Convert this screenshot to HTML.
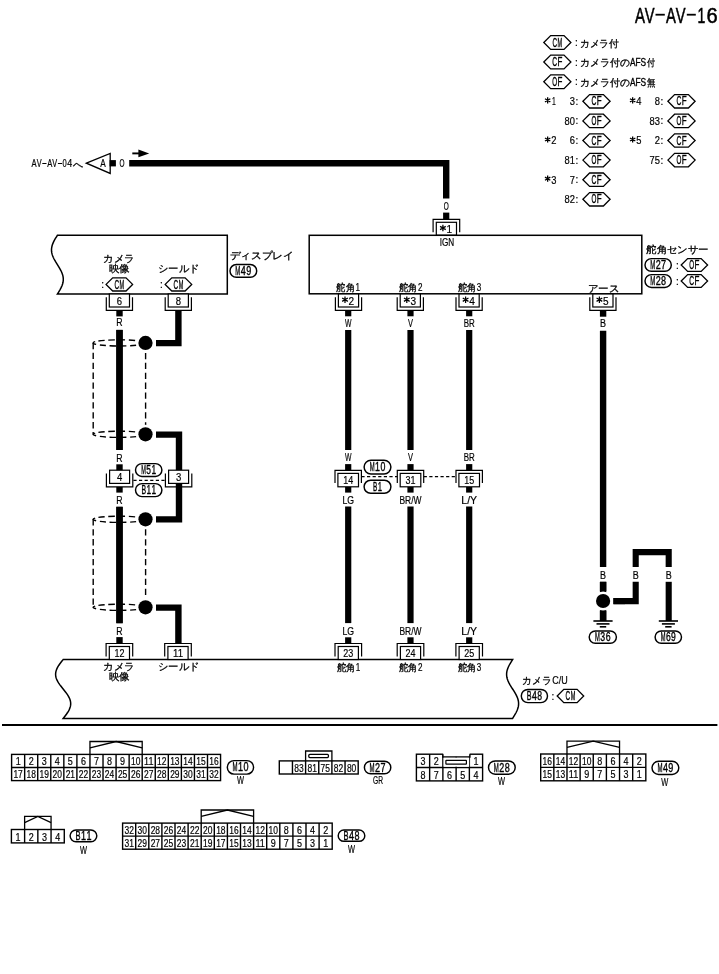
<!DOCTYPE html><html><head><meta charset="utf-8"><style>html,body{margin:0;padding:0;background:#fff;}svg{display:block;will-change:transform;}text{font-family:"Liberation Sans",sans-serif;fill:#000;stroke:#000;stroke-width:0.2px;}text.j{stroke-width:0.3px;}text.t{stroke-width:0.55px;}text.m{stroke-width:0.35px;}</style></head><body>
<svg width="719" height="974" viewBox="0 0 719 974" stroke="#000" fill="none">
<rect x="0" y="0" width="719" height="974" fill="#fff" stroke="none"/>
<text x="634.90" y="22.60" font-size="22" textLength="10.0" lengthAdjust="spacingAndGlyphs" class="t">A</text>
<text x="644.80" y="22.60" font-size="22" textLength="9.800000000000068" lengthAdjust="spacingAndGlyphs" class="t">V</text>
<text x="666.00" y="22.60" font-size="22" textLength="9.899999999999977" lengthAdjust="spacingAndGlyphs" class="t">A</text>
<text x="675.80" y="22.60" font-size="22" textLength="9.800000000000068" lengthAdjust="spacingAndGlyphs" class="t">V</text>
<text x="697.40" y="22.60" font-size="22" textLength="7.800000000000068" lengthAdjust="spacingAndGlyphs" class="t">1</text>
<text x="706.40" y="22.60" font-size="22" textLength="11.200000000000045" lengthAdjust="spacingAndGlyphs" class="t">6</text>
<rect x="655.50" y="13.80" width="9.30" height="1.80" fill="#000" stroke="none"/>
<rect x="686.80" y="13.80" width="9.00" height="1.80" fill="#000" stroke="none"/>
<path d="M543.80,42.45 L550.70,35.55 L564.00,35.55 L570.90,42.45 L564.00,49.35 L550.70,49.35 Z" fill="#fff" stroke-width="1.3"/>
<text x="554.82" y="46.55" font-size="12" text-anchor="middle" textLength="4.646" lengthAdjust="spacingAndGlyphs" class="m">C</text>
<text x="559.87" y="46.55" font-size="12" text-anchor="middle" textLength="4.646" lengthAdjust="spacingAndGlyphs" class="m">M</text>
<text x="576.40" y="46.05" font-size="10" text-anchor="middle">:</text>
<text x="579.80" y="46.75" font-size="10" textLength="38.9" lengthAdjust="spacingAndGlyphs" class="j">カメラ付</text>
<path d="M543.80,62.00 L550.70,55.10 L564.00,55.10 L570.90,62.00 L564.00,68.90 L550.70,68.90 Z" fill="#fff" stroke-width="1.3"/>
<text x="554.70" y="66.10" font-size="12" text-anchor="middle" textLength="4.876" lengthAdjust="spacingAndGlyphs" class="m">C</text>
<text x="560.00" y="66.10" font-size="12" text-anchor="middle" textLength="4.876" lengthAdjust="spacingAndGlyphs" class="m">F</text>
<text x="576.40" y="65.60" font-size="10" text-anchor="middle">:</text>
<text x="579.80" y="66.30" font-size="10" textLength="49.8" lengthAdjust="spacingAndGlyphs" class="j">カメラ付の</text>
<text x="629.90" y="66.00" font-size="11" textLength="16.2" lengthAdjust="spacingAndGlyphs" class="m">AFS</text>
<text x="647.00" y="66.30" font-size="10" textLength="8.0" lengthAdjust="spacingAndGlyphs" class="j">付</text>
<path d="M543.80,81.70 L550.70,74.80 L564.00,74.80 L570.90,81.70 L564.00,88.60 L550.70,88.60 Z" fill="#fff" stroke-width="1.3"/>
<text x="554.70" y="85.80" font-size="12" text-anchor="middle" textLength="4.876" lengthAdjust="spacingAndGlyphs" class="m">O</text>
<text x="560.00" y="85.80" font-size="12" text-anchor="middle" textLength="4.876" lengthAdjust="spacingAndGlyphs" class="m">F</text>
<text x="576.40" y="85.30" font-size="10" text-anchor="middle">:</text>
<text x="579.80" y="86.00" font-size="10" textLength="49.8" lengthAdjust="spacingAndGlyphs" class="j">カメラ付の</text>
<text x="629.90" y="85.70" font-size="11" textLength="16.2" lengthAdjust="spacingAndGlyphs" class="m">AFS</text>
<text x="647.00" y="86.00" font-size="10" textLength="8.4" lengthAdjust="spacingAndGlyphs" class="j">無</text>
<path d="M582.90,101.30 L589.60,94.60 L603.40,94.60 L610.10,101.30 L603.40,108.00 L589.60,108.00 Z" fill="#fff" stroke-width="1.3"/>
<text x="593.85" y="105.40" font-size="12" text-anchor="middle" textLength="4.876" lengthAdjust="spacingAndGlyphs" class="m">C</text>
<text x="599.15" y="105.40" font-size="12" text-anchor="middle" textLength="4.876" lengthAdjust="spacingAndGlyphs" class="m">F</text>
<path d="M547.65,103.40 L547.65,97.20 M544.97,101.85 L550.33,98.75 M544.97,98.75 L550.33,101.85 " stroke-width="1.3" fill="none"/>
<text x="553.80" y="105.20" font-size="10.5" text-anchor="middle" textLength="3.8" lengthAdjust="spacingAndGlyphs">1</text>
<text x="575.00" y="105.20" font-size="10.5" text-anchor="end" textLength="5.2" lengthAdjust="spacingAndGlyphs">3</text>
<text x="577.00" y="104.80" font-size="10" text-anchor="middle">:</text>
<path d="M582.90,120.90 L589.60,114.20 L603.40,114.20 L610.10,120.90 L603.40,127.60 L589.60,127.60 Z" fill="#fff" stroke-width="1.3"/>
<text x="593.85" y="125.00" font-size="12" text-anchor="middle" textLength="4.876" lengthAdjust="spacingAndGlyphs" class="m">O</text>
<text x="599.15" y="125.00" font-size="12" text-anchor="middle" textLength="4.876" lengthAdjust="spacingAndGlyphs" class="m">F</text>
<text x="575.00" y="124.80" font-size="10.5" text-anchor="end" textLength="10.4" lengthAdjust="spacingAndGlyphs">80</text>
<text x="577.00" y="124.40" font-size="10" text-anchor="middle">:</text>
<path d="M582.90,140.50 L589.60,133.80 L603.40,133.80 L610.10,140.50 L603.40,147.20 L589.60,147.20 Z" fill="#fff" stroke-width="1.3"/>
<text x="593.85" y="144.60" font-size="12" text-anchor="middle" textLength="4.876" lengthAdjust="spacingAndGlyphs" class="m">C</text>
<text x="599.15" y="144.60" font-size="12" text-anchor="middle" textLength="4.876" lengthAdjust="spacingAndGlyphs" class="m">F</text>
<path d="M547.65,142.60 L547.65,136.40 M544.97,141.05 L550.33,137.95 M544.97,137.95 L550.33,141.05 " stroke-width="1.3" fill="none"/>
<text x="553.80" y="144.40" font-size="10.5" text-anchor="middle" textLength="5.2" lengthAdjust="spacingAndGlyphs">2</text>
<text x="575.00" y="144.40" font-size="10.5" text-anchor="end" textLength="5.2" lengthAdjust="spacingAndGlyphs">6</text>
<text x="577.00" y="144.00" font-size="10" text-anchor="middle">:</text>
<path d="M582.90,160.10 L589.60,153.40 L603.40,153.40 L610.10,160.10 L603.40,166.80 L589.60,166.80 Z" fill="#fff" stroke-width="1.3"/>
<text x="593.85" y="164.20" font-size="12" text-anchor="middle" textLength="4.876" lengthAdjust="spacingAndGlyphs" class="m">O</text>
<text x="599.15" y="164.20" font-size="12" text-anchor="middle" textLength="4.876" lengthAdjust="spacingAndGlyphs" class="m">F</text>
<text x="575.00" y="164.00" font-size="10.5" text-anchor="end" textLength="10.4" lengthAdjust="spacingAndGlyphs">81</text>
<text x="577.00" y="163.60" font-size="10" text-anchor="middle">:</text>
<path d="M582.90,179.70 L589.60,173.00 L603.40,173.00 L610.10,179.70 L603.40,186.40 L589.60,186.40 Z" fill="#fff" stroke-width="1.3"/>
<text x="593.85" y="183.80" font-size="12" text-anchor="middle" textLength="4.876" lengthAdjust="spacingAndGlyphs" class="m">C</text>
<text x="599.15" y="183.80" font-size="12" text-anchor="middle" textLength="4.876" lengthAdjust="spacingAndGlyphs" class="m">F</text>
<path d="M547.65,181.80 L547.65,175.60 M544.97,180.25 L550.33,177.15 M544.97,177.15 L550.33,180.25 " stroke-width="1.3" fill="none"/>
<text x="553.80" y="183.60" font-size="10.5" text-anchor="middle" textLength="5.2" lengthAdjust="spacingAndGlyphs">3</text>
<text x="575.00" y="183.60" font-size="10.5" text-anchor="end" textLength="5.2" lengthAdjust="spacingAndGlyphs">7</text>
<text x="577.00" y="183.20" font-size="10" text-anchor="middle">:</text>
<path d="M582.90,199.30 L589.60,192.60 L603.40,192.60 L610.10,199.30 L603.40,206.00 L589.60,206.00 Z" fill="#fff" stroke-width="1.3"/>
<text x="593.85" y="203.40" font-size="12" text-anchor="middle" textLength="4.876" lengthAdjust="spacingAndGlyphs" class="m">O</text>
<text x="599.15" y="203.40" font-size="12" text-anchor="middle" textLength="4.876" lengthAdjust="spacingAndGlyphs" class="m">F</text>
<text x="575.00" y="203.20" font-size="10.5" text-anchor="end" textLength="10.4" lengthAdjust="spacingAndGlyphs">82</text>
<text x="577.00" y="202.80" font-size="10" text-anchor="middle">:</text>
<path d="M667.90,101.30 L674.60,94.60 L688.40,94.60 L695.10,101.30 L688.40,108.00 L674.60,108.00 Z" fill="#fff" stroke-width="1.3"/>
<text x="678.85" y="105.40" font-size="12" text-anchor="middle" textLength="4.876" lengthAdjust="spacingAndGlyphs" class="m">C</text>
<text x="684.15" y="105.40" font-size="12" text-anchor="middle" textLength="4.876" lengthAdjust="spacingAndGlyphs" class="m">F</text>
<path d="M632.65,103.40 L632.65,97.20 M629.97,101.85 L635.33,98.75 M629.97,98.75 L635.33,101.85 " stroke-width="1.3" fill="none"/>
<text x="638.80" y="105.20" font-size="10.5" text-anchor="middle" textLength="5.2" lengthAdjust="spacingAndGlyphs">4</text>
<text x="660.00" y="105.20" font-size="10.5" text-anchor="end" textLength="5.2" lengthAdjust="spacingAndGlyphs">8</text>
<text x="662.00" y="104.80" font-size="10" text-anchor="middle">:</text>
<path d="M667.90,120.90 L674.60,114.20 L688.40,114.20 L695.10,120.90 L688.40,127.60 L674.60,127.60 Z" fill="#fff" stroke-width="1.3"/>
<text x="678.85" y="125.00" font-size="12" text-anchor="middle" textLength="4.876" lengthAdjust="spacingAndGlyphs" class="m">O</text>
<text x="684.15" y="125.00" font-size="12" text-anchor="middle" textLength="4.876" lengthAdjust="spacingAndGlyphs" class="m">F</text>
<text x="660.00" y="124.80" font-size="10.5" text-anchor="end" textLength="10.4" lengthAdjust="spacingAndGlyphs">83</text>
<text x="662.00" y="124.40" font-size="10" text-anchor="middle">:</text>
<path d="M667.90,140.50 L674.60,133.80 L688.40,133.80 L695.10,140.50 L688.40,147.20 L674.60,147.20 Z" fill="#fff" stroke-width="1.3"/>
<text x="678.85" y="144.60" font-size="12" text-anchor="middle" textLength="4.876" lengthAdjust="spacingAndGlyphs" class="m">C</text>
<text x="684.15" y="144.60" font-size="12" text-anchor="middle" textLength="4.876" lengthAdjust="spacingAndGlyphs" class="m">F</text>
<path d="M632.65,142.60 L632.65,136.40 M629.97,141.05 L635.33,137.95 M629.97,137.95 L635.33,141.05 " stroke-width="1.3" fill="none"/>
<text x="638.80" y="144.40" font-size="10.5" text-anchor="middle" textLength="5.2" lengthAdjust="spacingAndGlyphs">5</text>
<text x="660.00" y="144.40" font-size="10.5" text-anchor="end" textLength="5.2" lengthAdjust="spacingAndGlyphs">2</text>
<text x="662.00" y="144.00" font-size="10" text-anchor="middle">:</text>
<path d="M667.90,160.10 L674.60,153.40 L688.40,153.40 L695.10,160.10 L688.40,166.80 L674.60,166.80 Z" fill="#fff" stroke-width="1.3"/>
<text x="678.85" y="164.20" font-size="12" text-anchor="middle" textLength="4.876" lengthAdjust="spacingAndGlyphs" class="m">O</text>
<text x="684.15" y="164.20" font-size="12" text-anchor="middle" textLength="4.876" lengthAdjust="spacingAndGlyphs" class="m">F</text>
<text x="660.00" y="164.00" font-size="10.5" text-anchor="end" textLength="10.4" lengthAdjust="spacingAndGlyphs">75</text>
<text x="662.00" y="163.60" font-size="10" text-anchor="middle">:</text>
<text x="31.60" y="167.20" font-size="10.5" textLength="5.100000000000001" lengthAdjust="spacingAndGlyphs">A</text>
<text x="36.70" y="167.20" font-size="10.5" textLength="4.899999999999999" lengthAdjust="spacingAndGlyphs">V</text>
<text x="47.20" y="167.20" font-size="10.5" textLength="5.099999999999994" lengthAdjust="spacingAndGlyphs">A</text>
<text x="52.30" y="167.20" font-size="10.5" textLength="4.900000000000006" lengthAdjust="spacingAndGlyphs">V</text>
<text x="62.60" y="167.20" font-size="10.5" textLength="4.199999999999996" lengthAdjust="spacingAndGlyphs">0</text>
<text x="67.30" y="167.20" font-size="10.5" textLength="5.0" lengthAdjust="spacingAndGlyphs">4</text>
<rect x="42.30" y="163.00" width="4.20" height="1.00" fill="#000" stroke="none"/>
<rect x="57.90" y="163.00" width="4.20" height="1.00" fill="#000" stroke="none"/>
<text x="72.80" y="167.60" font-size="10" textLength="10" lengthAdjust="spacingAndGlyphs" class="j">へ</text>
<text x="122.00" y="167.20" font-size="10.5" text-anchor="middle" textLength="5" lengthAdjust="spacingAndGlyphs">O</text>
<text x="446.20" y="210.30" font-size="10.5" text-anchor="middle" textLength="5" lengthAdjust="spacingAndGlyphs">O</text>
<path d="M86.4,163.2 L110.2,153.4 L110.2,173.4 Z" fill="#fff" stroke-width="1.3"/>
<text x="103.00" y="167.30" font-size="10.5" text-anchor="middle" textLength="5.5" lengthAdjust="spacingAndGlyphs">A</text>
<rect x="109.6" y="160.1" width="6.3" height="6.3" fill="#000" stroke="none"/>
<line x1="132.3" y1="153.4" x2="139.5" y2="153.4" stroke-width="1.9"/>
<path d="M138.4,149.6 L149.2,153.4 L138.4,157.2 Z" fill="#000" stroke="none"/>
<path d="M129.20,163.30 L446.20,163.30 L446.20,198.40" fill="none" stroke-width="6.4"/>
<line x1="446.2" y1="212.6" x2="446.2" y2="219" stroke-width="6.2"/>
<path d="M433.10,232.30 L433.10,219.30 L459.70,219.30 L459.70,232.30" fill="none" stroke-width="1.2"/>
<rect x="436.30" y="222.30" width="20.20" height="13.00" fill="#fff" stroke-width="1.2"/>
<path d="M442.90,231.30 L442.90,224.70 M440.04,229.65 L445.76,226.35 M440.04,226.35 L445.76,229.65 " stroke-width="1.25" fill="none"/>
<text x="449.30" y="233.00" font-size="11.5" text-anchor="middle" textLength="5.6" lengthAdjust="spacingAndGlyphs">1</text>
<path d="M227.30,235.30 L227.30,294.00 L57.40,294.00 L58.32,292.53 L59.22,291.06 L60.08,289.60 L60.87,288.13 L61.57,286.66 L62.17,285.19 L62.66,283.73 L63.01,282.26 L63.23,280.79 L63.30,279.32 L63.23,277.86 L63.01,276.39 L62.66,274.92 L62.17,273.45 L61.57,271.99 L60.87,270.52 L60.08,269.05 L59.22,267.59 L58.32,266.12 L57.40,264.65 L56.48,263.18 L55.58,261.72 L54.72,260.25 L53.93,258.78 L53.23,257.31 L52.63,255.84 L52.14,254.38 L51.79,252.91 L51.57,251.44 L51.50,249.98 L51.57,248.51 L51.79,247.04 L52.14,245.57 L52.63,244.11 L53.23,242.64 L53.93,241.17 L54.72,239.70 L55.58,238.24 L56.48,236.77 L57.40,235.30 Z" fill="#fff" stroke-width="1.5" stroke-linejoin="miter"/>
<text x="119.00" y="262.30" font-size="10" text-anchor="middle" textLength="31.2" lengthAdjust="spacingAndGlyphs" class="j">カメラ</text>
<text x="119.30" y="271.80" font-size="10" text-anchor="middle" textLength="21" lengthAdjust="spacingAndGlyphs" class="j">映像</text>
<text x="178.80" y="272.40" font-size="10" text-anchor="middle" textLength="41.2" lengthAdjust="spacingAndGlyphs" class="j">シールド</text>
<text x="102.60" y="287.50" font-size="10" text-anchor="middle">:</text>
<text x="161.50" y="287.50" font-size="10" text-anchor="middle">:</text>
<text x="229.60" y="259.30" font-size="10" textLength="64.2" lengthAdjust="spacingAndGlyphs" class="j">ディスプレイ</text>
<path d="M106.10,284.40 L112.70,277.80 L126.00,277.80 L132.60,284.40 L126.00,291.00 L112.70,291.00 Z" fill="#fff" stroke-width="1.3"/>
<text x="116.83" y="288.50" font-size="12" text-anchor="middle" textLength="4.646" lengthAdjust="spacingAndGlyphs" class="m">C</text>
<text x="121.88" y="288.50" font-size="12" text-anchor="middle" textLength="4.646" lengthAdjust="spacingAndGlyphs" class="m">M</text>
<path d="M165.20,284.40 L171.80,277.80 L185.10,277.80 L191.70,284.40 L185.10,291.00 L171.80,291.00 Z" fill="#fff" stroke-width="1.3"/>
<text x="175.92" y="288.50" font-size="12" text-anchor="middle" textLength="4.646" lengthAdjust="spacingAndGlyphs" class="m">C</text>
<text x="180.97" y="288.50" font-size="12" text-anchor="middle" textLength="4.646" lengthAdjust="spacingAndGlyphs" class="m">M</text>
<rect x="230.00" y="264.50" width="26.70" height="12.80" rx="6.40" fill="#fff" stroke-width="1.45"/>
<text x="237.88" y="275.00" font-size="12" text-anchor="middle" textLength="5.029333333333333" lengthAdjust="spacingAndGlyphs" class="m">M</text>
<text x="243.35" y="275.00" font-size="12" text-anchor="middle" textLength="5.029333333333333" lengthAdjust="spacingAndGlyphs" class="m">4</text>
<text x="248.82" y="275.00" font-size="12" text-anchor="middle" textLength="5.029333333333333" lengthAdjust="spacingAndGlyphs" class="m">9</text>
<rect x="309.20" y="235.30" width="332.60" height="58.50" fill="#fff" stroke-width="1.5"/>
<text x="446.90" y="246.30" font-size="10.5" text-anchor="middle" textLength="14.5" lengthAdjust="spacingAndGlyphs">IGN</text>
<text x="336.30" y="291.20" font-size="10" textLength="18.5" lengthAdjust="spacingAndGlyphs" class="j">舵角</text>
<text x="355.40" y="291.20" font-size="10.5" textLength="4.5" lengthAdjust="spacingAndGlyphs">1</text>
<text x="398.80" y="291.20" font-size="10" textLength="18.5" lengthAdjust="spacingAndGlyphs" class="j">舵角</text>
<text x="417.90" y="291.20" font-size="10.5" textLength="4.5" lengthAdjust="spacingAndGlyphs">2</text>
<text x="457.60" y="291.20" font-size="10" textLength="18.5" lengthAdjust="spacingAndGlyphs" class="j">舵角</text>
<text x="476.70" y="291.20" font-size="10.5" textLength="4.5" lengthAdjust="spacingAndGlyphs">3</text>
<text x="603.40" y="291.60" font-size="10" text-anchor="middle" textLength="31.5" lengthAdjust="spacingAndGlyphs" class="j">アース</text>
<text x="646.20" y="253.00" font-size="10" textLength="62.5" lengthAdjust="spacingAndGlyphs" class="j">舵角センサー</text>
<text x="677.40" y="268.50" font-size="10" text-anchor="middle">:</text>
<text x="677.40" y="284.50" font-size="10" text-anchor="middle">:</text>
<rect x="645.00" y="258.60" width="26.30" height="12.70" rx="6.35" fill="#fff" stroke-width="1.45"/>
<text x="652.68" y="269.05" font-size="12" text-anchor="middle" textLength="5.029333333333333" lengthAdjust="spacingAndGlyphs" class="m">M</text>
<text x="658.15" y="269.05" font-size="12" text-anchor="middle" textLength="5.029333333333333" lengthAdjust="spacingAndGlyphs" class="m">2</text>
<text x="663.62" y="269.05" font-size="12" text-anchor="middle" textLength="5.029333333333333" lengthAdjust="spacingAndGlyphs" class="m">7</text>
<rect x="645.00" y="274.60" width="26.30" height="12.90" rx="6.45" fill="#fff" stroke-width="1.45"/>
<text x="652.68" y="285.15" font-size="12" text-anchor="middle" textLength="5.029333333333333" lengthAdjust="spacingAndGlyphs" class="m">M</text>
<text x="658.15" y="285.15" font-size="12" text-anchor="middle" textLength="5.029333333333333" lengthAdjust="spacingAndGlyphs" class="m">2</text>
<text x="663.62" y="285.15" font-size="12" text-anchor="middle" textLength="5.029333333333333" lengthAdjust="spacingAndGlyphs" class="m">8</text>
<path d="M681.20,265.00 L687.65,258.55 L701.15,258.55 L707.60,265.00 L701.15,271.45 L687.65,271.45 Z" fill="#fff" stroke-width="1.3"/>
<text x="691.75" y="269.10" font-size="12" text-anchor="middle" textLength="4.876" lengthAdjust="spacingAndGlyphs" class="m">O</text>
<text x="697.05" y="269.10" font-size="12" text-anchor="middle" textLength="4.876" lengthAdjust="spacingAndGlyphs" class="m">F</text>
<path d="M681.20,281.00 L687.65,274.55 L701.15,274.55 L707.60,281.00 L701.15,287.45 L687.65,287.45 Z" fill="#fff" stroke-width="1.3"/>
<text x="691.75" y="285.10" font-size="12" text-anchor="middle" textLength="4.876" lengthAdjust="spacingAndGlyphs" class="m">C</text>
<text x="697.05" y="285.10" font-size="12" text-anchor="middle" textLength="4.876" lengthAdjust="spacingAndGlyphs" class="m">F</text>
<rect x="109.30" y="294.00" width="20.20" height="13.00" fill="#fff" stroke-width="1.2"/>
<path d="M106.30,297.20 L106.30,310.30 L132.50,310.30 L132.50,297.20" fill="none" stroke-width="1.2"/>
<text x="119.40" y="304.70" font-size="11.5" text-anchor="middle" textLength="5.3" lengthAdjust="spacingAndGlyphs">6</text>
<rect x="168.20" y="294.00" width="20.20" height="13.00" fill="#fff" stroke-width="1.2"/>
<path d="M165.20,297.20 L165.20,310.30 L191.40,310.30 L191.40,297.20" fill="none" stroke-width="1.2"/>
<text x="178.30" y="304.70" font-size="11.5" text-anchor="middle" textLength="5.3" lengthAdjust="spacingAndGlyphs">8</text>
<rect x="338.40" y="294.00" width="20.20" height="13.00" fill="#fff" stroke-width="1.2"/>
<path d="M335.40,297.20 L335.40,310.30 L361.60,310.30 L361.60,297.20" fill="none" stroke-width="1.2"/>
<path d="M345.00,303.00 L345.00,296.40 M342.14,301.35 L347.86,298.05 M342.14,298.05 L347.86,301.35 " stroke-width="1.25" fill="none"/>
<text x="351.40" y="304.70" font-size="11.5" text-anchor="middle" textLength="5.6" lengthAdjust="spacingAndGlyphs">2</text>
<rect x="400.20" y="294.00" width="20.20" height="13.00" fill="#fff" stroke-width="1.2"/>
<path d="M397.20,297.20 L397.20,310.30 L423.40,310.30 L423.40,297.20" fill="none" stroke-width="1.2"/>
<path d="M406.80,303.00 L406.80,296.40 M403.94,301.35 L409.66,298.05 M403.94,298.05 L409.66,301.35 " stroke-width="1.25" fill="none"/>
<text x="413.20" y="304.70" font-size="11.5" text-anchor="middle" textLength="5.6" lengthAdjust="spacingAndGlyphs">3</text>
<rect x="459.00" y="294.00" width="20.20" height="13.00" fill="#fff" stroke-width="1.2"/>
<path d="M456.00,297.20 L456.00,310.30 L482.20,310.30 L482.20,297.20" fill="none" stroke-width="1.2"/>
<path d="M465.60,303.00 L465.60,296.40 M462.74,301.35 L468.46,298.05 M462.74,298.05 L468.46,301.35 " stroke-width="1.25" fill="none"/>
<text x="472.00" y="304.70" font-size="11.5" text-anchor="middle" textLength="5.6" lengthAdjust="spacingAndGlyphs">4</text>
<rect x="592.80" y="294.00" width="20.20" height="13.00" fill="#fff" stroke-width="1.2"/>
<path d="M589.80,297.20 L589.80,310.30 L616.00,310.30 L616.00,297.20" fill="none" stroke-width="1.2"/>
<path d="M599.40,303.00 L599.40,296.40 M596.54,301.35 L602.26,298.05 M596.54,298.05 L602.26,301.35 " stroke-width="1.25" fill="none"/>
<text x="605.80" y="304.70" font-size="11.5" text-anchor="middle" textLength="5.6" lengthAdjust="spacingAndGlyphs">5</text>
<line x1="119.5" y1="310.3" x2="119.5" y2="316.4" stroke-width="6.4"/>
<line x1="119.5" y1="329.9" x2="119.5" y2="450" stroke-width="6.4"/>
<line x1="119.5" y1="464.3" x2="119.5" y2="471" stroke-width="6.4"/>
<line x1="119.5" y1="486.9" x2="119.5" y2="492.6" stroke-width="6.4"/>
<line x1="119.5" y1="506.8" x2="119.5" y2="623.2" stroke-width="6.4"/>
<line x1="119.5" y1="637.1" x2="119.5" y2="643.4" stroke-width="6.4"/>
<text x="119.50" y="325.60" font-size="10.5" text-anchor="middle" textLength="6.3" lengthAdjust="spacingAndGlyphs">R</text>
<text x="119.50" y="462.00" font-size="10.5" text-anchor="middle" textLength="6.3" lengthAdjust="spacingAndGlyphs">R</text>
<text x="119.50" y="504.00" font-size="10.5" text-anchor="middle" textLength="6.3" lengthAdjust="spacingAndGlyphs">R</text>
<text x="119.50" y="634.80" font-size="10.5" text-anchor="middle" textLength="6.3" lengthAdjust="spacingAndGlyphs">R</text>
<g stroke-dasharray="6.3 3.6" stroke-width="1.4">
<ellipse cx="119.3" cy="342.9" rx="26.2" ry="3.1"/>
<ellipse cx="119.3" cy="434.3" rx="26.2" ry="3.1"/>
<line x1="93.2" y1="342.9" x2="93.2" y2="434.3"/>
<line x1="145.6" y1="352.9" x2="145.6" y2="426.3"/>
<ellipse cx="119.3" cy="519.3" rx="26.2" ry="3.1"/>
<ellipse cx="119.3" cy="607.3" rx="26.2" ry="3.1"/>
<line x1="93.2" y1="519.3" x2="93.2" y2="607.3"/>
<line x1="145.6" y1="529.3" x2="145.6" y2="599.3"/>
</g>
<line x1="119.5" y1="329.9" x2="119.5" y2="450" stroke-width="6.4"/>
<line x1="119.5" y1="506.8" x2="119.5" y2="623.2" stroke-width="6.4"/>
<circle cx="145.5" cy="342.9" r="9.6" fill="#fff" stroke="none"/>
<circle cx="145.5" cy="342.9" r="7.1" fill="#000" stroke="none"/>
<circle cx="145.5" cy="434.3" r="9.6" fill="#fff" stroke="none"/>
<circle cx="145.5" cy="434.3" r="7.1" fill="#000" stroke="none"/>
<circle cx="145.5" cy="519.3" r="9.6" fill="#fff" stroke="none"/>
<circle cx="145.5" cy="519.3" r="7.1" fill="#000" stroke="none"/>
<circle cx="145.5" cy="607.3" r="9.6" fill="#fff" stroke="none"/>
<circle cx="145.5" cy="607.3" r="7.1" fill="#000" stroke="none"/>
<path d="M178.40,310.30 L178.40,343.10 L156.00,343.10" fill="none" stroke-width="6.4"/>
<path d="M156.00,434.60 L179.00,434.60 L179.00,470.50" fill="none" stroke-width="6.4"/>
<path d="M179.00,483.00 L179.00,519.40 L156.00,519.40" fill="none" stroke-width="6.4"/>
<path d="M156.00,607.60 L178.40,607.60 L178.40,643.40" fill="none" stroke-width="6.4"/>
<rect x="109.60" y="470.20" width="20.00" height="13.20" fill="#fff" stroke-width="1.2"/>
<path d="M106.40,473.60 L106.40,486.90 L132.80,486.90 L132.80,473.60" fill="none" stroke-width="1.2"/>
<text x="119.60" y="481.00" font-size="11.5" text-anchor="middle" textLength="5.3" lengthAdjust="spacingAndGlyphs">4</text>
<rect x="168.60" y="470.20" width="20.00" height="13.20" fill="#fff" stroke-width="1.2"/>
<path d="M165.40,473.60 L165.40,486.90 L191.80,486.90 L191.80,473.60" fill="none" stroke-width="1.2"/>
<text x="178.60" y="481.00" font-size="11.5" text-anchor="middle" textLength="5.3" lengthAdjust="spacingAndGlyphs">3</text>
<line x1="133.4" y1="480.4" x2="165" y2="480.4" stroke-width="1.1" stroke-dasharray="3.2 2.4"/>
<rect x="135.50" y="463.60" width="26.40" height="12.80" rx="6.40" fill="#fff" stroke-width="1.45"/>
<text x="143.63" y="474.10" font-size="12" text-anchor="middle" textLength="4.661333333333333" lengthAdjust="spacingAndGlyphs" class="m">M</text>
<text x="148.70" y="474.10" font-size="12" text-anchor="middle" textLength="4.661333333333333" lengthAdjust="spacingAndGlyphs" class="m">5</text>
<text x="153.77" y="474.10" font-size="12" text-anchor="middle" textLength="4.661333333333333" lengthAdjust="spacingAndGlyphs" class="m">1</text>
<rect x="135.50" y="483.60" width="26.40" height="13.00" rx="6.50" fill="#fff" stroke-width="1.45"/>
<text x="143.70" y="494.20" font-size="12" text-anchor="middle" textLength="4.6000000000000005" lengthAdjust="spacingAndGlyphs" class="m">B</text>
<text x="148.70" y="494.20" font-size="12" text-anchor="middle" textLength="4.6000000000000005" lengthAdjust="spacingAndGlyphs" class="m">1</text>
<text x="153.70" y="494.20" font-size="12" text-anchor="middle" textLength="4.6000000000000005" lengthAdjust="spacingAndGlyphs" class="m">1</text>
<line x1="348.2" y1="310.7" x2="348.2" y2="316.3" stroke-width="6.2"/>
<line x1="348.2" y1="330" x2="348.2" y2="450" stroke-width="6.2"/>
<line x1="348.2" y1="464.1" x2="348.2" y2="470.4" stroke-width="6.2"/>
<line x1="348.2" y1="486.8" x2="348.2" y2="492.6" stroke-width="6.2"/>
<line x1="348.2" y1="506.5" x2="348.2" y2="623.1" stroke-width="6.2"/>
<line x1="348.2" y1="637.3" x2="348.2" y2="643.9" stroke-width="6.2"/>
<text x="348.20" y="327.40" font-size="10.5" text-anchor="middle" textLength="6.5" lengthAdjust="spacingAndGlyphs">W</text>
<text x="348.20" y="461.30" font-size="10.5" text-anchor="middle" textLength="6.5" lengthAdjust="spacingAndGlyphs">W</text>
<text x="348.20" y="503.70" font-size="10.5" text-anchor="middle" textLength="11.6" lengthAdjust="spacingAndGlyphs">LG</text>
<text x="348.20" y="634.70" font-size="10.5" text-anchor="middle" textLength="11.6" lengthAdjust="spacingAndGlyphs">LG</text>
<line x1="410.5" y1="310.7" x2="410.5" y2="316.3" stroke-width="6.2"/>
<line x1="410.5" y1="330" x2="410.5" y2="450" stroke-width="6.2"/>
<line x1="410.5" y1="464.1" x2="410.5" y2="470.4" stroke-width="6.2"/>
<line x1="410.5" y1="486.8" x2="410.5" y2="492.6" stroke-width="6.2"/>
<line x1="410.5" y1="506.5" x2="410.5" y2="623.1" stroke-width="6.2"/>
<line x1="410.5" y1="637.3" x2="410.5" y2="643.9" stroke-width="6.2"/>
<text x="410.50" y="327.40" font-size="10.5" text-anchor="middle" textLength="5" lengthAdjust="spacingAndGlyphs">V</text>
<text x="410.50" y="461.30" font-size="10.5" text-anchor="middle" textLength="5" lengthAdjust="spacingAndGlyphs">V</text>
<text x="410.50" y="503.70" font-size="10.5" text-anchor="middle" textLength="22" lengthAdjust="spacingAndGlyphs">BR/W</text>
<text x="410.50" y="634.70" font-size="10.5" text-anchor="middle" textLength="22" lengthAdjust="spacingAndGlyphs">BR/W</text>
<line x1="469.2" y1="310.7" x2="469.2" y2="316.3" stroke-width="6.2"/>
<line x1="469.2" y1="330" x2="469.2" y2="450" stroke-width="6.2"/>
<line x1="469.2" y1="464.1" x2="469.2" y2="470.4" stroke-width="6.2"/>
<line x1="469.2" y1="486.8" x2="469.2" y2="492.6" stroke-width="6.2"/>
<line x1="469.2" y1="506.5" x2="469.2" y2="623.1" stroke-width="6.2"/>
<line x1="469.2" y1="637.3" x2="469.2" y2="643.9" stroke-width="6.2"/>
<text x="469.20" y="327.40" font-size="10.5" text-anchor="middle" textLength="11" lengthAdjust="spacingAndGlyphs">BR</text>
<text x="469.20" y="461.30" font-size="10.5" text-anchor="middle" textLength="11" lengthAdjust="spacingAndGlyphs">BR</text>
<text x="469.20" y="503.70" font-size="10.5" text-anchor="middle" textLength="15.8" lengthAdjust="spacingAndGlyphs">L/Y</text>
<text x="469.20" y="634.70" font-size="10.5" text-anchor="middle" textLength="15.8" lengthAdjust="spacingAndGlyphs">L/Y</text>
<path d="M335.00,483.10 L335.00,470.40 L361.40,470.40 L361.40,483.10" fill="none" stroke-width="1.2"/>
<rect x="337.90" y="473.40" width="20.60" height="13.40" fill="#fff" stroke-width="1.2"/>
<text x="348.20" y="484.30" font-size="11.5" text-anchor="middle" textLength="10" lengthAdjust="spacingAndGlyphs">14</text>
<path d="M397.30,483.10 L397.30,470.40 L423.70,470.40 L423.70,483.10" fill="none" stroke-width="1.2"/>
<rect x="400.20" y="473.40" width="20.60" height="13.40" fill="#fff" stroke-width="1.2"/>
<text x="410.50" y="484.30" font-size="11.5" text-anchor="middle" textLength="10" lengthAdjust="spacingAndGlyphs">31</text>
<path d="M456.00,483.10 L456.00,470.40 L482.40,470.40 L482.40,483.10" fill="none" stroke-width="1.2"/>
<rect x="458.90" y="473.40" width="20.60" height="13.40" fill="#fff" stroke-width="1.2"/>
<text x="469.20" y="484.30" font-size="11.5" text-anchor="middle" textLength="10" lengthAdjust="spacingAndGlyphs">15</text>
<g stroke-width="1.2" stroke-dasharray="3.2 2.4">
<line x1="361.4" y1="476.6" x2="397.3" y2="476.6"/>
<line x1="423.7" y1="476.6" x2="456" y2="476.6"/>
</g>
<rect x="364.10" y="460.20" width="26.80" height="13.70" rx="6.85" fill="#fff" stroke-width="1.45"/>
<text x="372.17" y="471.15" font-size="12" text-anchor="middle" textLength="4.906666666666666" lengthAdjust="spacingAndGlyphs" class="m">M</text>
<text x="377.50" y="471.15" font-size="12" text-anchor="middle" textLength="4.906666666666666" lengthAdjust="spacingAndGlyphs" class="m">1</text>
<text x="382.83" y="471.15" font-size="12" text-anchor="middle" textLength="4.906666666666666" lengthAdjust="spacingAndGlyphs" class="m">0</text>
<rect x="364.10" y="480.20" width="26.80" height="13.10" rx="6.55" fill="#fff" stroke-width="1.45"/>
<text x="375.18" y="490.85" font-size="12" text-anchor="middle" textLength="4.2780000000000005" lengthAdjust="spacingAndGlyphs" class="m">B</text>
<text x="379.82" y="490.85" font-size="12" text-anchor="middle" textLength="4.2780000000000005" lengthAdjust="spacingAndGlyphs" class="m">1</text>
<line x1="603.1" y1="310.5" x2="603.1" y2="316.7" stroke-width="6.4"/>
<line x1="603.1" y1="330.7" x2="603.1" y2="567.1" stroke-width="6.4"/>
<line x1="603.1" y1="581.8" x2="603.1" y2="595" stroke-width="6.4"/>
<line x1="603.1" y1="607" x2="603.1" y2="621" stroke-width="6.4"/>
<path d="M613.40,601.10 L635.70,601.10 L635.70,581.80" fill="none" stroke-width="6.1"/>
<path d="M635.70,567.10 L635.70,552.10 L668.70,552.10 L668.70,567.10" fill="none" stroke-width="6.1"/>
<line x1="668.7" y1="581.8" x2="668.7" y2="621" stroke-width="6.1"/>
<circle cx="603.1" cy="601" r="9.6" fill="#fff" stroke="none"/>
<circle cx="603.1" cy="601" r="7.1" fill="#000" stroke="none"/>
<line x1="603.1" y1="581.8" x2="603.1" y2="591" stroke-width="6.4"/>
<line x1="603.1" y1="611" x2="603.1" y2="621" stroke-width="6.4"/>
<line x1="613.4" y1="601.1" x2="625" y2="601.1" stroke-width="6.1"/>
<text x="603.10" y="327.30" font-size="10.5" text-anchor="middle" textLength="6" lengthAdjust="spacingAndGlyphs">B</text>
<text x="603.10" y="578.80" font-size="10.5" text-anchor="middle" textLength="6" lengthAdjust="spacingAndGlyphs">B</text>
<text x="635.70" y="578.80" font-size="10.5" text-anchor="middle" textLength="6" lengthAdjust="spacingAndGlyphs">B</text>
<text x="668.70" y="578.80" font-size="10.5" text-anchor="middle" textLength="6" lengthAdjust="spacingAndGlyphs">B</text>
<line x1="593.4" y1="621" x2="612.6" y2="621" stroke-width="1.6"/>
<line x1="596.5" y1="623.9" x2="609.5" y2="623.9" stroke-width="1.6"/>
<line x1="599.8" y1="626.8" x2="606.2" y2="626.8" stroke-width="1.6"/>
<line x1="658.8" y1="621" x2="678.0" y2="621" stroke-width="1.6"/>
<line x1="661.9" y1="623.9" x2="674.9" y2="623.9" stroke-width="1.6"/>
<line x1="665.1999999999999" y1="626.8" x2="671.6" y2="626.8" stroke-width="1.6"/>
<rect x="589.20" y="631.00" width="27.20" height="12.20" rx="6.10" fill="#fff" stroke-width="1.45"/>
<text x="597.50" y="641.20" font-size="12" text-anchor="middle" textLength="4.876" lengthAdjust="spacingAndGlyphs" class="m">M</text>
<text x="602.80" y="641.20" font-size="12" text-anchor="middle" textLength="4.876" lengthAdjust="spacingAndGlyphs" class="m">3</text>
<text x="608.10" y="641.20" font-size="12" text-anchor="middle" textLength="4.876" lengthAdjust="spacingAndGlyphs" class="m">6</text>
<rect x="655.10" y="631.00" width="26.40" height="12.20" rx="6.10" fill="#fff" stroke-width="1.45"/>
<text x="663.13" y="641.20" font-size="12" text-anchor="middle" textLength="4.753333333333334" lengthAdjust="spacingAndGlyphs" class="m">M</text>
<text x="668.30" y="641.20" font-size="12" text-anchor="middle" textLength="4.753333333333334" lengthAdjust="spacingAndGlyphs" class="m">6</text>
<text x="673.47" y="641.20" font-size="12" text-anchor="middle" textLength="4.753333333333334" lengthAdjust="spacingAndGlyphs" class="m">9</text>
<path d="M63.15,659.60 L61.97,661.07 L60.82,662.54 L59.72,664.01 L58.71,665.48 L57.81,666.95 L57.04,668.42 L56.42,669.89 L55.97,671.36 L55.69,672.83 L55.60,674.30 L55.69,675.77 L55.97,677.24 L56.42,678.71 L57.04,680.18 L57.81,681.65 L58.71,683.12 L59.72,684.59 L60.82,686.06 L61.97,687.53 L63.15,689.00 L64.33,690.47 L65.48,691.94 L66.58,693.41 L67.59,694.88 L68.49,696.35 L69.26,697.82 L69.88,699.29 L70.33,700.76 L70.61,702.23 L70.70,703.70 L70.61,705.17 L70.33,706.64 L69.88,708.11 L69.26,709.58 L68.49,711.05 L67.59,712.52 L66.58,713.99 L65.48,715.46 L64.33,716.93 L63.15,718.40 L512.60,718.40 L513.54,716.93 L514.45,715.46 L515.32,713.99 L516.13,712.52 L516.84,711.05 L517.45,709.58 L517.95,708.11 L518.31,706.64 L518.53,705.17 L518.60,703.70 L518.53,702.23 L518.31,700.76 L517.95,699.29 L517.45,697.82 L516.84,696.35 L516.13,694.88 L515.32,693.41 L514.45,691.94 L513.54,690.47 L512.60,689.00 L511.66,687.53 L510.75,686.06 L509.88,684.59 L509.07,683.12 L508.36,681.65 L507.75,680.18 L507.25,678.71 L506.89,677.24 L506.67,675.77 L506.60,674.30 L506.67,672.83 L506.89,671.36 L507.25,669.89 L507.75,668.42 L508.36,666.95 L509.07,665.48 L509.88,664.01 L510.75,662.54 L511.66,661.07 L512.60,659.60 Z" fill="#fff" stroke-width="1.5" stroke-linejoin="miter"/>
<path d="M106.10,656.50 L106.10,643.50 L132.70,643.50 L132.70,656.50" fill="none" stroke-width="1.2"/>
<rect x="109.30" y="646.50" width="20.20" height="13.00" fill="#fff" stroke-width="1.2"/>
<text x="119.40" y="657.20" font-size="11.5" text-anchor="middle" textLength="10" lengthAdjust="spacingAndGlyphs">12</text>
<path d="M164.70,656.50 L164.70,643.50 L191.30,643.50 L191.30,656.50" fill="none" stroke-width="1.2"/>
<rect x="167.90" y="646.50" width="20.20" height="13.00" fill="#fff" stroke-width="1.2"/>
<text x="178.00" y="657.20" font-size="11.5" text-anchor="middle" textLength="10" lengthAdjust="spacingAndGlyphs">11</text>
<path d="M335.00,656.50 L335.00,643.50 L361.60,643.50 L361.60,656.50" fill="none" stroke-width="1.2"/>
<rect x="338.20" y="646.50" width="20.20" height="13.00" fill="#fff" stroke-width="1.2"/>
<text x="348.30" y="657.20" font-size="11.5" text-anchor="middle" textLength="10" lengthAdjust="spacingAndGlyphs">23</text>
<path d="M397.20,656.50 L397.20,643.50 L423.80,643.50 L423.80,656.50" fill="none" stroke-width="1.2"/>
<rect x="400.40" y="646.50" width="20.20" height="13.00" fill="#fff" stroke-width="1.2"/>
<text x="410.50" y="657.20" font-size="11.5" text-anchor="middle" textLength="10" lengthAdjust="spacingAndGlyphs">24</text>
<path d="M455.90,656.50 L455.90,643.50 L482.50,643.50 L482.50,656.50" fill="none" stroke-width="1.2"/>
<rect x="459.10" y="646.50" width="20.20" height="13.00" fill="#fff" stroke-width="1.2"/>
<text x="469.20" y="657.20" font-size="11.5" text-anchor="middle" textLength="10" lengthAdjust="spacingAndGlyphs">25</text>
<text x="119.00" y="669.70" font-size="10" text-anchor="middle" textLength="31.2" lengthAdjust="spacingAndGlyphs" class="j">カメラ</text>
<text x="119.30" y="680.30" font-size="10" text-anchor="middle" textLength="21" lengthAdjust="spacingAndGlyphs" class="j">映像</text>
<text x="178.80" y="670.20" font-size="10" text-anchor="middle" textLength="41.2" lengthAdjust="spacingAndGlyphs" class="j">シールド</text>
<text x="336.70" y="670.80" font-size="10" textLength="18.5" lengthAdjust="spacingAndGlyphs" class="j">舵角</text>
<text x="355.70" y="670.80" font-size="10.5" textLength="4.5" lengthAdjust="spacingAndGlyphs">1</text>
<text x="399.00" y="670.80" font-size="10" textLength="18.5" lengthAdjust="spacingAndGlyphs" class="j">舵角</text>
<text x="418.00" y="670.80" font-size="10.5" textLength="4.5" lengthAdjust="spacingAndGlyphs">2</text>
<text x="457.70" y="670.80" font-size="10" textLength="18.5" lengthAdjust="spacingAndGlyphs" class="j">舵角</text>
<text x="476.70" y="670.80" font-size="10.5" textLength="4.5" lengthAdjust="spacingAndGlyphs">3</text>
<text x="522.40" y="683.70" font-size="10" textLength="29" lengthAdjust="spacingAndGlyphs" class="j">カメラ</text>
<text x="552.20" y="683.70" font-size="10.5" textLength="15.5" lengthAdjust="spacingAndGlyphs">C/U</text>
<text x="553.00" y="699.50" font-size="10" text-anchor="middle">:</text>
<rect x="521.30" y="689.40" width="26.20" height="13.20" rx="6.60" fill="#fff" stroke-width="1.45"/>
<text x="529.17" y="700.10" font-size="12" text-anchor="middle" textLength="4.814666666666667" lengthAdjust="spacingAndGlyphs" class="m">B</text>
<text x="534.40" y="700.10" font-size="12" text-anchor="middle" textLength="4.814666666666667" lengthAdjust="spacingAndGlyphs" class="m">4</text>
<text x="539.63" y="700.10" font-size="12" text-anchor="middle" textLength="4.814666666666667" lengthAdjust="spacingAndGlyphs" class="m">8</text>
<path d="M557.20,696.00 L563.80,689.40 L577.10,689.40 L583.70,696.00 L577.10,702.60 L563.80,702.60 Z" fill="#fff" stroke-width="1.3"/>
<text x="567.93" y="700.10" font-size="12" text-anchor="middle" textLength="4.646" lengthAdjust="spacingAndGlyphs" class="m">C</text>
<text x="572.98" y="700.10" font-size="12" text-anchor="middle" textLength="4.646" lengthAdjust="spacingAndGlyphs" class="m">M</text>
<line x1="2" y1="725" x2="717.4" y2="725" stroke-width="2"/>
<path d="M89.96,754.40 L89.96,741.50 L142.20,741.50 L142.20,754.40" fill="none" stroke-width="1.3"/>
<path d="M89.96,747.80 L116.08,741.50 L142.20,747.80" fill="none" stroke-width="1.3"/>
<rect x="11.60" y="754.40" width="208.96" height="26.20" fill="#fff" stroke-width="1.4"/>
<line x1="24.66" y1="754.4" x2="24.66" y2="780.6" stroke-width="1.4"/>
<line x1="37.72" y1="754.4" x2="37.72" y2="780.6" stroke-width="1.4"/>
<line x1="50.78" y1="754.4" x2="50.78" y2="780.6" stroke-width="1.4"/>
<line x1="63.84" y1="754.4" x2="63.84" y2="780.6" stroke-width="1.4"/>
<line x1="76.9" y1="754.4" x2="76.9" y2="780.6" stroke-width="1.4"/>
<line x1="89.96" y1="754.4" x2="89.96" y2="780.6" stroke-width="1.4"/>
<line x1="103.02" y1="754.4" x2="103.02" y2="780.6" stroke-width="1.4"/>
<line x1="116.08" y1="754.4" x2="116.08" y2="780.6" stroke-width="1.4"/>
<line x1="129.14" y1="754.4" x2="129.14" y2="780.6" stroke-width="1.4"/>
<line x1="142.2" y1="754.4" x2="142.2" y2="780.6" stroke-width="1.4"/>
<line x1="155.26" y1="754.4" x2="155.26" y2="780.6" stroke-width="1.4"/>
<line x1="168.32" y1="754.4" x2="168.32" y2="780.6" stroke-width="1.4"/>
<line x1="181.38" y1="754.4" x2="181.38" y2="780.6" stroke-width="1.4"/>
<line x1="194.44" y1="754.4" x2="194.44" y2="780.6" stroke-width="1.4"/>
<line x1="207.5" y1="754.4" x2="207.5" y2="780.6" stroke-width="1.4"/>
<line x1="11.6" y1="767.5" x2="220.56" y2="767.5" stroke-width="1.4"/>
<text x="18.13" y="765.25" font-size="10.5" text-anchor="middle" textLength="5" lengthAdjust="spacingAndGlyphs">1</text>
<text x="31.19" y="765.25" font-size="10.5" text-anchor="middle" textLength="5" lengthAdjust="spacingAndGlyphs">2</text>
<text x="44.25" y="765.25" font-size="10.5" text-anchor="middle" textLength="5" lengthAdjust="spacingAndGlyphs">3</text>
<text x="57.31" y="765.25" font-size="10.5" text-anchor="middle" textLength="5" lengthAdjust="spacingAndGlyphs">4</text>
<text x="70.37" y="765.25" font-size="10.5" text-anchor="middle" textLength="5" lengthAdjust="spacingAndGlyphs">5</text>
<text x="83.43" y="765.25" font-size="10.5" text-anchor="middle" textLength="5" lengthAdjust="spacingAndGlyphs">6</text>
<text x="96.49" y="765.25" font-size="10.5" text-anchor="middle" textLength="5" lengthAdjust="spacingAndGlyphs">7</text>
<text x="109.55" y="765.25" font-size="10.5" text-anchor="middle" textLength="5" lengthAdjust="spacingAndGlyphs">8</text>
<text x="122.61" y="765.25" font-size="10.5" text-anchor="middle" textLength="5" lengthAdjust="spacingAndGlyphs">9</text>
<text x="135.67" y="765.25" font-size="10.5" text-anchor="middle" textLength="9.4" lengthAdjust="spacingAndGlyphs">10</text>
<text x="148.73" y="765.25" font-size="10.5" text-anchor="middle" textLength="9.4" lengthAdjust="spacingAndGlyphs">11</text>
<text x="161.79" y="765.25" font-size="10.5" text-anchor="middle" textLength="9.4" lengthAdjust="spacingAndGlyphs">12</text>
<text x="174.85" y="765.25" font-size="10.5" text-anchor="middle" textLength="9.4" lengthAdjust="spacingAndGlyphs">13</text>
<text x="187.91" y="765.25" font-size="10.5" text-anchor="middle" textLength="9.4" lengthAdjust="spacingAndGlyphs">14</text>
<text x="200.97" y="765.25" font-size="10.5" text-anchor="middle" textLength="9.4" lengthAdjust="spacingAndGlyphs">15</text>
<text x="214.03" y="765.25" font-size="10.5" text-anchor="middle" textLength="9.4" lengthAdjust="spacingAndGlyphs">16</text>
<text x="18.13" y="778.35" font-size="10.5" text-anchor="middle" textLength="9.4" lengthAdjust="spacingAndGlyphs">17</text>
<text x="31.19" y="778.35" font-size="10.5" text-anchor="middle" textLength="9.4" lengthAdjust="spacingAndGlyphs">18</text>
<text x="44.25" y="778.35" font-size="10.5" text-anchor="middle" textLength="9.4" lengthAdjust="spacingAndGlyphs">19</text>
<text x="57.31" y="778.35" font-size="10.5" text-anchor="middle" textLength="9.4" lengthAdjust="spacingAndGlyphs">20</text>
<text x="70.37" y="778.35" font-size="10.5" text-anchor="middle" textLength="9.4" lengthAdjust="spacingAndGlyphs">21</text>
<text x="83.43" y="778.35" font-size="10.5" text-anchor="middle" textLength="9.4" lengthAdjust="spacingAndGlyphs">22</text>
<text x="96.49" y="778.35" font-size="10.5" text-anchor="middle" textLength="9.4" lengthAdjust="spacingAndGlyphs">23</text>
<text x="109.55" y="778.35" font-size="10.5" text-anchor="middle" textLength="9.4" lengthAdjust="spacingAndGlyphs">24</text>
<text x="122.61" y="778.35" font-size="10.5" text-anchor="middle" textLength="9.4" lengthAdjust="spacingAndGlyphs">25</text>
<text x="135.67" y="778.35" font-size="10.5" text-anchor="middle" textLength="9.4" lengthAdjust="spacingAndGlyphs">26</text>
<text x="148.73" y="778.35" font-size="10.5" text-anchor="middle" textLength="9.4" lengthAdjust="spacingAndGlyphs">27</text>
<text x="161.79" y="778.35" font-size="10.5" text-anchor="middle" textLength="9.4" lengthAdjust="spacingAndGlyphs">28</text>
<text x="174.85" y="778.35" font-size="10.5" text-anchor="middle" textLength="9.4" lengthAdjust="spacingAndGlyphs">29</text>
<text x="187.91" y="778.35" font-size="10.5" text-anchor="middle" textLength="9.4" lengthAdjust="spacingAndGlyphs">30</text>
<text x="200.97" y="778.35" font-size="10.5" text-anchor="middle" textLength="9.4" lengthAdjust="spacingAndGlyphs">31</text>
<text x="214.03" y="778.35" font-size="10.5" text-anchor="middle" textLength="9.4" lengthAdjust="spacingAndGlyphs">32</text>
<rect x="227.30" y="760.60" width="26.30" height="13.50" rx="6.75" fill="#fff" stroke-width="1.45"/>
<text x="234.98" y="771.45" font-size="12" text-anchor="middle" textLength="5.029333333333333" lengthAdjust="spacingAndGlyphs" class="m">M</text>
<text x="240.45" y="771.45" font-size="12" text-anchor="middle" textLength="5.029333333333333" lengthAdjust="spacingAndGlyphs" class="m">1</text>
<text x="245.92" y="771.45" font-size="12" text-anchor="middle" textLength="5.029333333333333" lengthAdjust="spacingAndGlyphs" class="m">0</text>
<text x="240.60" y="784.40" font-size="10.5" text-anchor="middle" textLength="7" lengthAdjust="spacingAndGlyphs">W</text>
<rect x="279.30" y="760.90" width="78.90" height="13.10" fill="#fff" stroke-width="1.4"/>
<line x1="292.45" y1="760.9" x2="292.45" y2="774.0" stroke-width="1.4"/>
<line x1="305.6" y1="760.9" x2="305.6" y2="774.0" stroke-width="1.4"/>
<line x1="318.75" y1="760.9" x2="318.75" y2="774.0" stroke-width="1.4"/>
<line x1="331.9" y1="760.9" x2="331.9" y2="774.0" stroke-width="1.4"/>
<line x1="345.05" y1="760.9" x2="345.05" y2="774.0" stroke-width="1.4"/>
<text x="299.02" y="771.75" font-size="10.5" text-anchor="middle" textLength="9.4" lengthAdjust="spacingAndGlyphs">83</text>
<text x="312.18" y="771.75" font-size="10.5" text-anchor="middle" textLength="9.4" lengthAdjust="spacingAndGlyphs">81</text>
<text x="325.32" y="771.75" font-size="10.5" text-anchor="middle" textLength="9.4" lengthAdjust="spacingAndGlyphs">75</text>
<text x="338.48" y="771.75" font-size="10.5" text-anchor="middle" textLength="9.4" lengthAdjust="spacingAndGlyphs">82</text>
<text x="351.62" y="771.75" font-size="10.5" text-anchor="middle" textLength="9.4" lengthAdjust="spacingAndGlyphs">80</text>
<path d="M305.60,760.90 L305.60,751.00 L331.90,751.00 L331.90,760.90" fill="none" stroke-width="1.3"/>
<rect x="308.80" y="754.30" width="19.60" height="3.30" fill="#fff" stroke-width="1.3" rx="1"/>
<rect x="364.40" y="761.20" width="26.40" height="12.60" rx="6.30" fill="#fff" stroke-width="1.45"/>
<text x="372.13" y="771.60" font-size="12" text-anchor="middle" textLength="5.029333333333333" lengthAdjust="spacingAndGlyphs" class="m">M</text>
<text x="377.60" y="771.60" font-size="12" text-anchor="middle" textLength="5.029333333333333" lengthAdjust="spacingAndGlyphs" class="m">2</text>
<text x="383.07" y="771.60" font-size="12" text-anchor="middle" textLength="5.029333333333333" lengthAdjust="spacingAndGlyphs" class="m">7</text>
<text x="378.10" y="784.40" font-size="10.5" text-anchor="middle" textLength="10" lengthAdjust="spacingAndGlyphs">GR</text>
<rect x="416.40" y="754.20" width="66.20" height="26.70" fill="#fff" stroke-width="1.4"/>
<line x1="429.64" y1="754.2" x2="429.64" y2="780.9000000000001" stroke-width="1.4"/>
<line x1="442.88" y1="754.2" x2="442.88" y2="780.9000000000001" stroke-width="1.4"/>
<line x1="456.12" y1="754.2" x2="456.12" y2="780.9000000000001" stroke-width="1.4"/>
<line x1="469.36" y1="754.2" x2="469.36" y2="780.9000000000001" stroke-width="1.4"/>
<line x1="416.4" y1="767.55" x2="482.59999999999997" y2="767.55" stroke-width="1.4"/>
<text x="423.02" y="765.17" font-size="10.5" text-anchor="middle" textLength="5" lengthAdjust="spacingAndGlyphs">3</text>
<text x="436.26" y="765.17" font-size="10.5" text-anchor="middle" textLength="5" lengthAdjust="spacingAndGlyphs">2</text>
<text x="475.98" y="765.17" font-size="10.5" text-anchor="middle" textLength="5" lengthAdjust="spacingAndGlyphs">1</text>
<text x="423.02" y="778.52" font-size="10.5" text-anchor="middle" textLength="5" lengthAdjust="spacingAndGlyphs">8</text>
<text x="436.26" y="778.52" font-size="10.5" text-anchor="middle" textLength="5" lengthAdjust="spacingAndGlyphs">7</text>
<text x="449.50" y="778.52" font-size="10.5" text-anchor="middle" textLength="5" lengthAdjust="spacingAndGlyphs">6</text>
<text x="462.74" y="778.52" font-size="10.5" text-anchor="middle" textLength="5" lengthAdjust="spacingAndGlyphs">5</text>
<text x="475.98" y="778.52" font-size="10.5" text-anchor="middle" textLength="5" lengthAdjust="spacingAndGlyphs">4</text>
<rect x="443.20" y="750.00" width="26.40" height="6.80" fill="#fff" stroke="none"/>
<path d="M442.9,754.2 L442.9,757 L469.9,757 L469.9,754.2" stroke-width="1.4"/>
<rect x="443.6" y="757.7" width="25.6" height="9" fill="#fff" stroke="none"/>
<rect x="445.90" y="760.40" width="20.50" height="3.80" fill="#fff" stroke-width="1.2" rx="0.4"/>
<rect x="488.50" y="760.90" width="26.70" height="13.30" rx="6.65" fill="#fff" stroke-width="1.45"/>
<text x="496.38" y="771.65" font-size="12" text-anchor="middle" textLength="5.029333333333333" lengthAdjust="spacingAndGlyphs" class="m">M</text>
<text x="501.85" y="771.65" font-size="12" text-anchor="middle" textLength="5.029333333333333" lengthAdjust="spacingAndGlyphs" class="m">2</text>
<text x="507.32" y="771.65" font-size="12" text-anchor="middle" textLength="5.029333333333333" lengthAdjust="spacingAndGlyphs" class="m">8</text>
<text x="501.50" y="784.60" font-size="10.5" text-anchor="middle" textLength="7" lengthAdjust="spacingAndGlyphs">W</text>
<path d="M566.98,754.00 L566.98,741.10 L619.54,741.10 L619.54,754.00" fill="none" stroke-width="1.3"/>
<path d="M566.98,747.40 L593.26,741.10 L619.54,747.40" fill="none" stroke-width="1.3"/>
<rect x="540.70" y="754.00" width="105.12" height="26.80" fill="#fff" stroke-width="1.4"/>
<line x1="553.84" y1="754" x2="553.84" y2="780.8" stroke-width="1.4"/>
<line x1="566.98" y1="754" x2="566.98" y2="780.8" stroke-width="1.4"/>
<line x1="580.12" y1="754" x2="580.12" y2="780.8" stroke-width="1.4"/>
<line x1="593.26" y1="754" x2="593.26" y2="780.8" stroke-width="1.4"/>
<line x1="606.4" y1="754" x2="606.4" y2="780.8" stroke-width="1.4"/>
<line x1="619.54" y1="754" x2="619.54" y2="780.8" stroke-width="1.4"/>
<line x1="632.68" y1="754" x2="632.68" y2="780.8" stroke-width="1.4"/>
<line x1="540.7" y1="767.4" x2="645.82" y2="767.4" stroke-width="1.4"/>
<text x="547.27" y="765.00" font-size="10.5" text-anchor="middle" textLength="9.4" lengthAdjust="spacingAndGlyphs">16</text>
<text x="560.41" y="765.00" font-size="10.5" text-anchor="middle" textLength="9.4" lengthAdjust="spacingAndGlyphs">14</text>
<text x="573.55" y="765.00" font-size="10.5" text-anchor="middle" textLength="9.4" lengthAdjust="spacingAndGlyphs">12</text>
<text x="586.69" y="765.00" font-size="10.5" text-anchor="middle" textLength="9.4" lengthAdjust="spacingAndGlyphs">10</text>
<text x="599.83" y="765.00" font-size="10.5" text-anchor="middle" textLength="5" lengthAdjust="spacingAndGlyphs">8</text>
<text x="612.97" y="765.00" font-size="10.5" text-anchor="middle" textLength="5" lengthAdjust="spacingAndGlyphs">6</text>
<text x="626.11" y="765.00" font-size="10.5" text-anchor="middle" textLength="5" lengthAdjust="spacingAndGlyphs">4</text>
<text x="639.25" y="765.00" font-size="10.5" text-anchor="middle" textLength="5" lengthAdjust="spacingAndGlyphs">2</text>
<text x="547.27" y="778.40" font-size="10.5" text-anchor="middle" textLength="9.4" lengthAdjust="spacingAndGlyphs">15</text>
<text x="560.41" y="778.40" font-size="10.5" text-anchor="middle" textLength="9.4" lengthAdjust="spacingAndGlyphs">13</text>
<text x="573.55" y="778.40" font-size="10.5" text-anchor="middle" textLength="9.4" lengthAdjust="spacingAndGlyphs">11</text>
<text x="586.69" y="778.40" font-size="10.5" text-anchor="middle" textLength="5" lengthAdjust="spacingAndGlyphs">9</text>
<text x="599.83" y="778.40" font-size="10.5" text-anchor="middle" textLength="5" lengthAdjust="spacingAndGlyphs">7</text>
<text x="612.97" y="778.40" font-size="10.5" text-anchor="middle" textLength="5" lengthAdjust="spacingAndGlyphs">5</text>
<text x="626.11" y="778.40" font-size="10.5" text-anchor="middle" textLength="5" lengthAdjust="spacingAndGlyphs">3</text>
<text x="639.25" y="778.40" font-size="10.5" text-anchor="middle" textLength="5" lengthAdjust="spacingAndGlyphs">1</text>
<rect x="652.00" y="761.20" width="26.80" height="13.30" rx="6.65" fill="#fff" stroke-width="1.45"/>
<text x="659.93" y="771.95" font-size="12" text-anchor="middle" textLength="5.029333333333333" lengthAdjust="spacingAndGlyphs" class="m">M</text>
<text x="665.40" y="771.95" font-size="12" text-anchor="middle" textLength="5.029333333333333" lengthAdjust="spacingAndGlyphs" class="m">4</text>
<text x="670.87" y="771.95" font-size="12" text-anchor="middle" textLength="5.029333333333333" lengthAdjust="spacingAndGlyphs" class="m">9</text>
<text x="664.70" y="786.00" font-size="10.5" text-anchor="middle" textLength="7" lengthAdjust="spacingAndGlyphs">W</text>
<path d="M24.62,829.50 L24.62,816.40 L51.06,816.40 L51.06,829.50" fill="none" stroke-width="1.3"/>
<path d="M24.62,822.70 L37.84,816.40 L51.06,822.70" fill="none" stroke-width="1.3"/>
<rect x="11.40" y="829.50" width="52.88" height="13.40" fill="#fff" stroke-width="1.4"/>
<line x1="24.62" y1="829.5" x2="24.62" y2="842.9" stroke-width="1.4"/>
<line x1="37.84" y1="829.5" x2="37.84" y2="842.9" stroke-width="1.4"/>
<line x1="51.06" y1="829.5" x2="51.06" y2="842.9" stroke-width="1.4"/>
<text x="18.01" y="840.50" font-size="10.5" text-anchor="middle" textLength="5" lengthAdjust="spacingAndGlyphs">1</text>
<text x="31.23" y="840.50" font-size="10.5" text-anchor="middle" textLength="5" lengthAdjust="spacingAndGlyphs">2</text>
<text x="44.45" y="840.50" font-size="10.5" text-anchor="middle" textLength="5" lengthAdjust="spacingAndGlyphs">3</text>
<text x="57.67" y="840.50" font-size="10.5" text-anchor="middle" textLength="5" lengthAdjust="spacingAndGlyphs">4</text>
<rect x="70.10" y="830.00" width="26.70" height="11.70" rx="5.85" fill="#fff" stroke-width="1.45"/>
<text x="77.98" y="839.95" font-size="12" text-anchor="middle" textLength="5.029333333333333" lengthAdjust="spacingAndGlyphs" class="m">B</text>
<text x="83.45" y="839.95" font-size="12" text-anchor="middle" textLength="5.029333333333333" lengthAdjust="spacingAndGlyphs" class="m">1</text>
<text x="88.92" y="839.95" font-size="12" text-anchor="middle" textLength="5.029333333333333" lengthAdjust="spacingAndGlyphs" class="m">1</text>
<text x="83.50" y="853.50" font-size="10.5" text-anchor="middle" textLength="7" lengthAdjust="spacingAndGlyphs">W</text>
<path d="M201.20,823.10 L201.20,810.00 L253.60,810.00 L253.60,823.10" fill="none" stroke-width="1.3"/>
<path d="M201.20,816.30 L227.40,810.00 L253.60,816.30" fill="none" stroke-width="1.3"/>
<rect x="122.60" y="823.10" width="209.60" height="26.10" fill="#fff" stroke-width="1.4"/>
<line x1="135.7" y1="823.1" x2="135.7" y2="849.2" stroke-width="1.4"/>
<line x1="148.8" y1="823.1" x2="148.8" y2="849.2" stroke-width="1.4"/>
<line x1="161.9" y1="823.1" x2="161.9" y2="849.2" stroke-width="1.4"/>
<line x1="175.0" y1="823.1" x2="175.0" y2="849.2" stroke-width="1.4"/>
<line x1="188.1" y1="823.1" x2="188.1" y2="849.2" stroke-width="1.4"/>
<line x1="201.2" y1="823.1" x2="201.2" y2="849.2" stroke-width="1.4"/>
<line x1="214.3" y1="823.1" x2="214.3" y2="849.2" stroke-width="1.4"/>
<line x1="227.4" y1="823.1" x2="227.4" y2="849.2" stroke-width="1.4"/>
<line x1="240.5" y1="823.1" x2="240.5" y2="849.2" stroke-width="1.4"/>
<line x1="253.6" y1="823.1" x2="253.6" y2="849.2" stroke-width="1.4"/>
<line x1="266.7" y1="823.1" x2="266.7" y2="849.2" stroke-width="1.4"/>
<line x1="279.8" y1="823.1" x2="279.8" y2="849.2" stroke-width="1.4"/>
<line x1="292.9" y1="823.1" x2="292.9" y2="849.2" stroke-width="1.4"/>
<line x1="306.0" y1="823.1" x2="306.0" y2="849.2" stroke-width="1.4"/>
<line x1="319.1" y1="823.1" x2="319.1" y2="849.2" stroke-width="1.4"/>
<line x1="122.6" y1="836.15" x2="332.2" y2="836.15" stroke-width="1.4"/>
<text x="129.15" y="833.92" font-size="10.5" text-anchor="middle" textLength="9.4" lengthAdjust="spacingAndGlyphs">32</text>
<text x="142.25" y="833.92" font-size="10.5" text-anchor="middle" textLength="9.4" lengthAdjust="spacingAndGlyphs">30</text>
<text x="155.35" y="833.92" font-size="10.5" text-anchor="middle" textLength="9.4" lengthAdjust="spacingAndGlyphs">28</text>
<text x="168.45" y="833.92" font-size="10.5" text-anchor="middle" textLength="9.4" lengthAdjust="spacingAndGlyphs">26</text>
<text x="181.55" y="833.92" font-size="10.5" text-anchor="middle" textLength="9.4" lengthAdjust="spacingAndGlyphs">24</text>
<text x="194.65" y="833.92" font-size="10.5" text-anchor="middle" textLength="9.4" lengthAdjust="spacingAndGlyphs">22</text>
<text x="207.75" y="833.92" font-size="10.5" text-anchor="middle" textLength="9.4" lengthAdjust="spacingAndGlyphs">20</text>
<text x="220.85" y="833.92" font-size="10.5" text-anchor="middle" textLength="9.4" lengthAdjust="spacingAndGlyphs">18</text>
<text x="233.95" y="833.92" font-size="10.5" text-anchor="middle" textLength="9.4" lengthAdjust="spacingAndGlyphs">16</text>
<text x="247.05" y="833.92" font-size="10.5" text-anchor="middle" textLength="9.4" lengthAdjust="spacingAndGlyphs">14</text>
<text x="260.15" y="833.92" font-size="10.5" text-anchor="middle" textLength="9.4" lengthAdjust="spacingAndGlyphs">12</text>
<text x="273.25" y="833.92" font-size="10.5" text-anchor="middle" textLength="9.4" lengthAdjust="spacingAndGlyphs">10</text>
<text x="286.35" y="833.92" font-size="10.5" text-anchor="middle" textLength="5" lengthAdjust="spacingAndGlyphs">8</text>
<text x="299.45" y="833.92" font-size="10.5" text-anchor="middle" textLength="5" lengthAdjust="spacingAndGlyphs">6</text>
<text x="312.55" y="833.92" font-size="10.5" text-anchor="middle" textLength="5" lengthAdjust="spacingAndGlyphs">4</text>
<text x="325.65" y="833.92" font-size="10.5" text-anchor="middle" textLength="5" lengthAdjust="spacingAndGlyphs">2</text>
<text x="129.15" y="846.97" font-size="10.5" text-anchor="middle" textLength="9.4" lengthAdjust="spacingAndGlyphs">31</text>
<text x="142.25" y="846.97" font-size="10.5" text-anchor="middle" textLength="9.4" lengthAdjust="spacingAndGlyphs">29</text>
<text x="155.35" y="846.97" font-size="10.5" text-anchor="middle" textLength="9.4" lengthAdjust="spacingAndGlyphs">27</text>
<text x="168.45" y="846.97" font-size="10.5" text-anchor="middle" textLength="9.4" lengthAdjust="spacingAndGlyphs">25</text>
<text x="181.55" y="846.97" font-size="10.5" text-anchor="middle" textLength="9.4" lengthAdjust="spacingAndGlyphs">23</text>
<text x="194.65" y="846.97" font-size="10.5" text-anchor="middle" textLength="9.4" lengthAdjust="spacingAndGlyphs">21</text>
<text x="207.75" y="846.97" font-size="10.5" text-anchor="middle" textLength="9.4" lengthAdjust="spacingAndGlyphs">19</text>
<text x="220.85" y="846.97" font-size="10.5" text-anchor="middle" textLength="9.4" lengthAdjust="spacingAndGlyphs">17</text>
<text x="233.95" y="846.97" font-size="10.5" text-anchor="middle" textLength="9.4" lengthAdjust="spacingAndGlyphs">15</text>
<text x="247.05" y="846.97" font-size="10.5" text-anchor="middle" textLength="9.4" lengthAdjust="spacingAndGlyphs">13</text>
<text x="260.15" y="846.97" font-size="10.5" text-anchor="middle" textLength="9.4" lengthAdjust="spacingAndGlyphs">11</text>
<text x="273.25" y="846.97" font-size="10.5" text-anchor="middle" textLength="5" lengthAdjust="spacingAndGlyphs">9</text>
<text x="286.35" y="846.97" font-size="10.5" text-anchor="middle" textLength="5" lengthAdjust="spacingAndGlyphs">7</text>
<text x="299.45" y="846.97" font-size="10.5" text-anchor="middle" textLength="5" lengthAdjust="spacingAndGlyphs">5</text>
<text x="312.55" y="846.97" font-size="10.5" text-anchor="middle" textLength="5" lengthAdjust="spacingAndGlyphs">3</text>
<text x="325.65" y="846.97" font-size="10.5" text-anchor="middle" textLength="5" lengthAdjust="spacingAndGlyphs">1</text>
<rect x="338.20" y="830.00" width="26.60" height="11.30" rx="5.65" fill="#fff" stroke-width="1.45"/>
<text x="346.03" y="839.75" font-size="12" text-anchor="middle" textLength="5.029333333333333" lengthAdjust="spacingAndGlyphs" class="m">B</text>
<text x="351.50" y="839.75" font-size="12" text-anchor="middle" textLength="5.029333333333333" lengthAdjust="spacingAndGlyphs" class="m">4</text>
<text x="356.97" y="839.75" font-size="12" text-anchor="middle" textLength="5.029333333333333" lengthAdjust="spacingAndGlyphs" class="m">8</text>
<text x="351.50" y="853.00" font-size="10.5" text-anchor="middle" textLength="7" lengthAdjust="spacingAndGlyphs">W</text>
</svg></body></html>
